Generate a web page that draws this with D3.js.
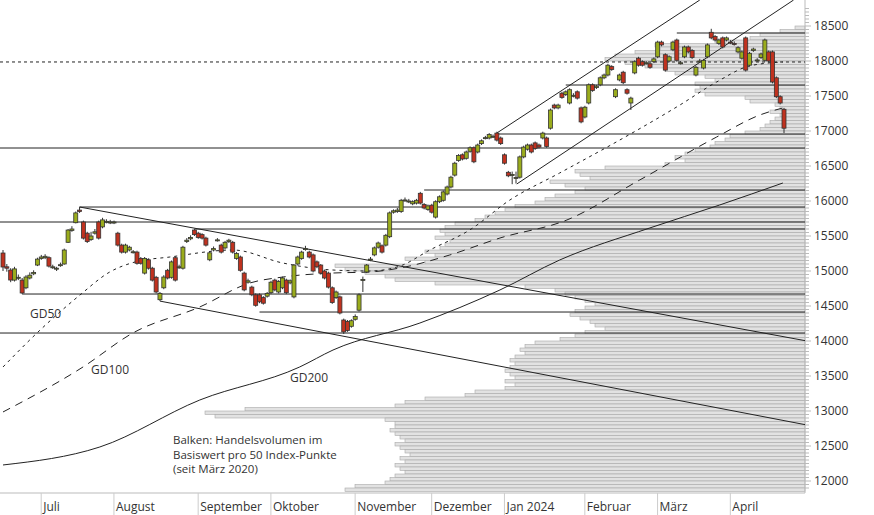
<!DOCTYPE html>
<html><head><meta charset="utf-8">
<script src="https://cdn.jsdelivr.net/npm/d3@7"></script>
<style>body{margin:0;background:#fff}svg{font-family:"Open Sans","DejaVu Sans",sans-serif}</style>
</head><body><svg id="c" width="874" height="515"></svg>
<script>
// candles: [open, close, high, low]
const candles = [
[15257,15057,15300,15000],[15060,15040,15100,14990],[15014,14871,15040,14840],[14870,15030,15060,14850],[14900,14910,14950,14870],
[14870,14686,14900,14670],[14760,14914,14940,14740],[14900,14940,14980,14880],[14960,14980,15010,14940],[15085,15170,15190,15070],
[15180,15200,15230,15160],[15190,15210,15240,15170],[15190,15070,15210,15050],[15057,15060,15090,15030],[15030,15040,15060,15000],
[15085,15090,15120,15060],[15100,15300,15320,15090],[15410,15585,15600,15400],[15580,15600,15640,15560],[15690,15830,15850,15680],
[15870,15850,15914,15830],[15700,15470,15720,15450],[15540,15420,15560,15400],[15450,15500,15560,15430],[15540,15560,15600,15520],
[15700,15470,15720,15450],[15630,15730,15760,15610],[15700,15710,15740,15680],[15700,15700,15730,15670],[15690,15700,15720,15670],
[15540,15370,15560,15350],[15370,15270,15390,15250],[15270,15370,15390,15250],[15300,15340,15360,15280],[15270,15275,15300,15250],
[15270,15110,15290,15090],[15180,15110,15200,15090],[14970,15180,15200,14950],[15160,15040,15180,15020],[15040,14870,15060,14850],
[14910,14700,14930,14680],[14590,14680,14700,14570],[14760,14914,14940,14740],[15010,14900,15030,14880],[14910,15130,15150,14890],
[15190,14870,15210,14850],[15050,15060,15090,15030],[15040,15340,15360,15020],[15420,15440,15470,15400],[15460,15480,15510,15440],
[15585,15520,15600,15500],[15540,15480,15560,15460],[15520,15470,15540,15450],[15470,15370,15490,15350],[15160,15260,15280,15140],
[15300,15320,15350,15280],[15440,15445,15470,15420],[15370,15270,15390,15250],[15330,15410,15430,15310],[15420,15440,15460,15400],
[15410,15270,15430,15250],[15180,15250,15270,15160],[15200,15010,15220,14990],[14970,14730,14990,14710],[14840,14860,14890,14820],
[14770,14660,14790,14640],[14660,14510,14680,14490],[14660,14560,14680,14540],[14620,14540,14640,14520],[14640,14680,14700,14620],
[14690,14840,14860,14670],[14870,14730,14890,14710],[14700,14850,14870,14680],[14760,14900,14920,14740],[14870,14690,14890,14670],
[14830,14860,14880,14810],[14630,15085,15100,14610],[15100,15200,15220,15080],[15180,15270,15290,15160],[15320,15320,15360,15290],
[15270,15200,15290,15180],[15230,15000,15250,14980],[15130,15060,15150,15040],[15085,14970,15100,14950],[15000,14900,15020,14880],
[14970,14770,14990,14750],[14760,14550,14780,14530],[14620,14700,14720,14600],[14630,14400,14650,14380],[14300,14130,14320,14100],
[14280,14150,14300,14130],[14210,14290,14310,14190],[14310,14350,14380,14290],[14440,14660,14680,14420],[14870,14880,14920,14700],
[14986,15085,15100,14970],[15160,15170,15200,15140],[15230,15330,15350,15210],[15340,15400,15420,15320],[15360,15270,15380,15250],
[15370,15510,15530,15350],[15490,15830,15850,15470],[15840,15860,15880,15820],[15850,15870,15900,15830],[15850,16010,16030,15830],
[16010,16015,16050,15990],[15990,16000,16030,15970],[15960,15990,16010,15940],[15970,16010,16030,15950],[16110,15970,16130,15950],
[15950,15900,15970,15880],[15880,15930,15950,15860],[15940,15840,15960,15820],[15770,15990,16010,15750],[15990,16060,16080,15970],
[16010,16130,16150,15990],[16100,16200,16220,16080],[16200,16340,16360,16180],[16370,16540,16560,16350],[16580,16650,16670,16560],
[16660,16600,16680,16580],[16610,16700,16720,16590],[16710,16760,16780,16690],[16760,16560,16780,16540],[16700,16800,16820,16680],
[16820,16860,16880,16800],[16900,16905,16930,16880],[16900,16950,16970,16880],[16920,16925,16950,16900],[16970,16870,16990,16850],
[16900,16820,16920,16800],[16660,16540,16680,16520],[16410,16360,16430,16340],[16380,16380,16420,16240],[16330,16335,16420,16250],
[16340,16630,16650,16320],[16630,16770,16790,16610],[16740,16800,16820,16720],[16800,16700,16820,16680],[16830,16750,16850,16730],
[16800,16770,16820,16750],[16900,16970,16990,16880],[16900,16780,16920,16760],[17040,17300,17320,17020],[17370,17330,17390,17310],
[17330,17370,17390,17310],[17540,17480,17560,17460],[17520,17560,17580,17500],[17400,17590,17610,17380],[17500,17510,17540,17480],
[17560,17470,17580,17450],[17330,17130,17350,17110],[17200,17340,17360,17180],[17400,17660,17680,17380],[17660,17580,17680,17560],
[17620,17640,17660,17600],[17660,17760,17780,17640],[17760,17800,17820,17740],[17800,17940,17960,17780],[17920,17880,17940,17860],
[17490,17590,17610,17470],[17730,17800,17820,17710],[17840,17690,17860,17670],[17590,17540,17610,17520],[17400,17470,17490,17300],
[17830,17990,18010,17810],[18040,17940,18060,17920],[17990,17940,18010,17920],[17970,17975,18000,17950],[17960,17910,17980,17890],
[17990,18030,18050,17970],[18060,18270,18290,18040],[18270,18230,18290,18210],[18090,17870,18110,17850],[18000,18060,18080,17980],
[18160,18270,18290,18140],[18300,18010,18320,17990],[17970,17975,18000,17950],[18060,18200,18220,18040],[18200,18130,18220,18110],
[18150,18050,18170,18030],[17800,17910,17930,17780],[17990,18000,18030,17970],[17900,18010,18030,17880],[18060,18230,18250,18040],
[18410,18330,18460,18310],[18350,18300,18370,18280],[18250,18300,18320,18230],[18330,18200,18350,18180],[18300,18330,18350,18280],
[18270,18260,18300,18240],[18250,18245,18280,18220],[18130,18190,18210,18110],[18040,18130,18150,18020],[18330,17870,18350,17850],
[17940,18110,18130,17920],[18150,18170,18190,18130],[18010,18015,18040,17990],[18050,18100,18120,18030],[18010,18300,18320,17990],
[18130,18000,18150,17980],[18130,17700,18150,17680],[17760,17490,17780,17470],[17490,17400,17510,17380],[17310,17040,17330,16970]
];
const monthNames = ["Juli","August","September","Oktober","November","Dezember","Jan 2024","Februar","März","April"];
const monthStart = [11,30,52,71,93,113,132,153,172,191];
const priceTicks = d3.range(12000,18501,500);
// volume profile per 50 points, from 18450 bucket downwards
const profileTop = 18450;
const profileVol = [10,25,45,55,90,150,145,170,190,200,180,160,140,130,100,90,110,105,110,100,60,55,30,25,35,25,30,35,40,45,
60,75,80,90,95,110,120,130,120,140,200,230,225,215,255,240,220,230,250,260,270,290,300,310,320,330,350,360,365,360,
370,355,360,365,380,370,400,380,470,460,440,420,410,370,280,250,240,230,220,210,220,230,235,225,215,210,200,220,230,245,
270,280,285,280,290,295,290,295,300,295,290,300,290,300,330,340,380,400,410,560,600,590,420,410,410,415,410,405,400,410,
405,400,395,405,400,410,405,400,410,415,420,450,460];
// horizontal support/resistance levels [level, startIndex]
const levels = [[18400,176],[17657,147],[16957,129],[16757,0],[16157,110],[15914,20],[15700,0],[15600,50],[14671,5],[14414,67],[14114,0]];
const dashedLevel = 17986;
// trend lines [idx1, price1, idx2, price2]
const trends = [[20,15914,210,14000],[41,14570,210,12800],[129,16971,182,18871],[134.2,16243,206.5,18871]];
// moving averages (candle index, value)
const gd50 = [[0,13629],[9.7,14157],[20.1,14657],[27.9,14986],[34.5,15129],[43.6,15200],[60.1,15300],[73.1,15114],[86.2,15014],[95.8,15000],[103.7,15071],[111.5,15300],[121.9,15586],[132.4,16014],[145.4,16400],[161.1,16871],[176.8,17371],[186.4,17700],[195,17929],[203.7,17986]];
const gd100 = [[0,12986],[20.9,13629],[33.9,14114],[51.4,14486],[64.5,14829],[73.1,14914],[86.2,14971],[95.8,14986],[103.7,15043],[116.7,15229],[129.8,15471],[147.3,15729],[166.3,16300],[186.4,16914],[197.7,17229],[203.7,17329]];
const gd200 = [[0,12229],[25.3,12486],[51.4,13157],[77.5,13629],[86.2,13871],[108.9,14257],[129.8,14729],[145.4,15157],[168.9,15614],[187.2,15943],[203.7,16257]];

const svg = d3.select("#c");
const N = candles.length;
const x = d3.scaleLinear().domain([0,N-1]).range([3,784]);
const y = d3.scaleLinear().domain([12000,18500]).range([481,26]);
const plotR = 805;
const step = x(1)-x(0);

svg.append("g").selectAll("rect").data(profileVol).join("rect")
  .attr("x",d=>plotR-d).attr("width",d=>d)
  .attr("y",(d,i)=>y(profileTop-50*i+50)).attr("height",(d,i)=>y(profileTop-50*i)-y(profileTop-50*i+50))
  .attr("fill","#e2e2e2").attr("stroke","#a9a9a9").attr("stroke-width",0.6);

const ya = svg.append("g").attr("transform",`translate(${plotR},0)`);
ya.append("line").attr("y1",0).attr("y2",493).attr("stroke","#bbb");
ya.selectAll("line.m").data(d3.range(11900,18800,50)).join("line").attr("class","m")
  .attr("x1",0).attr("x2",d=>d%500===0?6:4).attr("y1",d=>y(d)).attr("y2",d=>y(d)).attr("stroke","#bbb");
ya.selectAll("text").data(priceTicks).join("text").attr("x",9).attr("y",d=>y(d)+4)
  .attr("font-size",12).attr("fill","#333").text(d=>d);

svg.append("line").attr("x1",0).attr("x2",plotR).attr("y1",493).attr("y2",493).attr("stroke","#bbb");
const mx = i=>x(i)-step/2-2;
svg.selectAll("line.mt").data(monthStart).join("line").attr("class","mt")
  .attr("x1",mx).attr("x2",mx).attr("y1",493).attr("y2",515).attr("stroke","#ccc");
svg.selectAll("text.ml").data(monthStart).join("text").attr("class","ml")
  .attr("x",d=>mx(d)+2).attr("y",511).attr("font-size",12).attr("fill","#333").text((d,i)=>monthNames[i]);

svg.selectAll("line.lv").data(levels).join("line").attr("class","lv")
  .attr("x1",d=>d[1]===0?0:x(d[1])).attr("x2",plotR).attr("y1",d=>y(d[0])).attr("y2",d=>y(d[0]))
  .attr("stroke","#222").attr("stroke-width",1);
svg.append("line").attr("x1",0).attr("x2",plotR).attr("y1",y(dashedLevel)).attr("y2",y(dashedLevel))
  .attr("stroke","#222").attr("stroke-dasharray","3,3");

svg.append("clipPath").attr("id","cp").append("rect").attr("x",0).attr("y",0).attr("width",plotR).attr("height",493);
const tg = svg.append("g").attr("clip-path","url(#cp)");
tg.selectAll("line").data(trends).join("line")
  .attr("x1",d=>x(d[0])).attr("y1",d=>y(d[1])).attr("x2",d=>x(d[2])).attr("y2",d=>y(d[3]))
  .attr("stroke","#222").attr("stroke-width",1);

const ln = d3.line().x(d=>x(d[0])).y(d=>y(d[1])).curve(d3.curveMonotoneX);
tg.append("path").attr("d",ln(gd50)).attr("fill","none").attr("stroke","#222").attr("stroke-dasharray","3,4");
tg.append("path").attr("d",ln(gd100)).attr("fill","none").attr("stroke","#222").attr("stroke-dasharray","8,6");
tg.append("path").attr("d",ln(gd200)).attr("fill","none").attr("stroke","#222");

const cg = svg.append("g").selectAll("g").data(candles).join("g");
cg.append("line").attr("x1",(d,i)=>x(i)).attr("x2",(d,i)=>x(i)).attr("y1",d=>y(d[2])).attr("y2",d=>y(d[3]))
  .attr("stroke","#333");
cg.append("rect").attr("x",(d,i)=>x(i)-2).attr("width",4)
  .attr("y",d=>y(Math.max(d[0],d[1]))).attr("height",d=>Math.max(1,Math.abs(y(d[0])-y(d[1]))))
  .attr("fill",d=>d[1]>=d[0]?"#9aac1c":"#c0321f").attr("stroke","#333").attr("stroke-width",0.8);

const lab = [["GD50",30,318],["GD100",91,374],["GD200",290,382]];
svg.selectAll("text.gd").data(lab).join("text").attr("class","gd").attr("x",d=>d[1]).attr("y",d=>d[2])
  .attr("font-size",12).attr("fill","#333").text(d=>d[0]);
const note = ["Balken: Handelsvolumen im","Basiswert pro 50 Index-Punkte","(seit März 2020)"];
svg.selectAll("text.nt").data(note).join("text").attr("class","nt").attr("x",173).attr("y",(d,i)=>444+i*14.5)
  .attr("font-size",11.5).attr("fill","#333").text(d=>d);
</script></body></html>
